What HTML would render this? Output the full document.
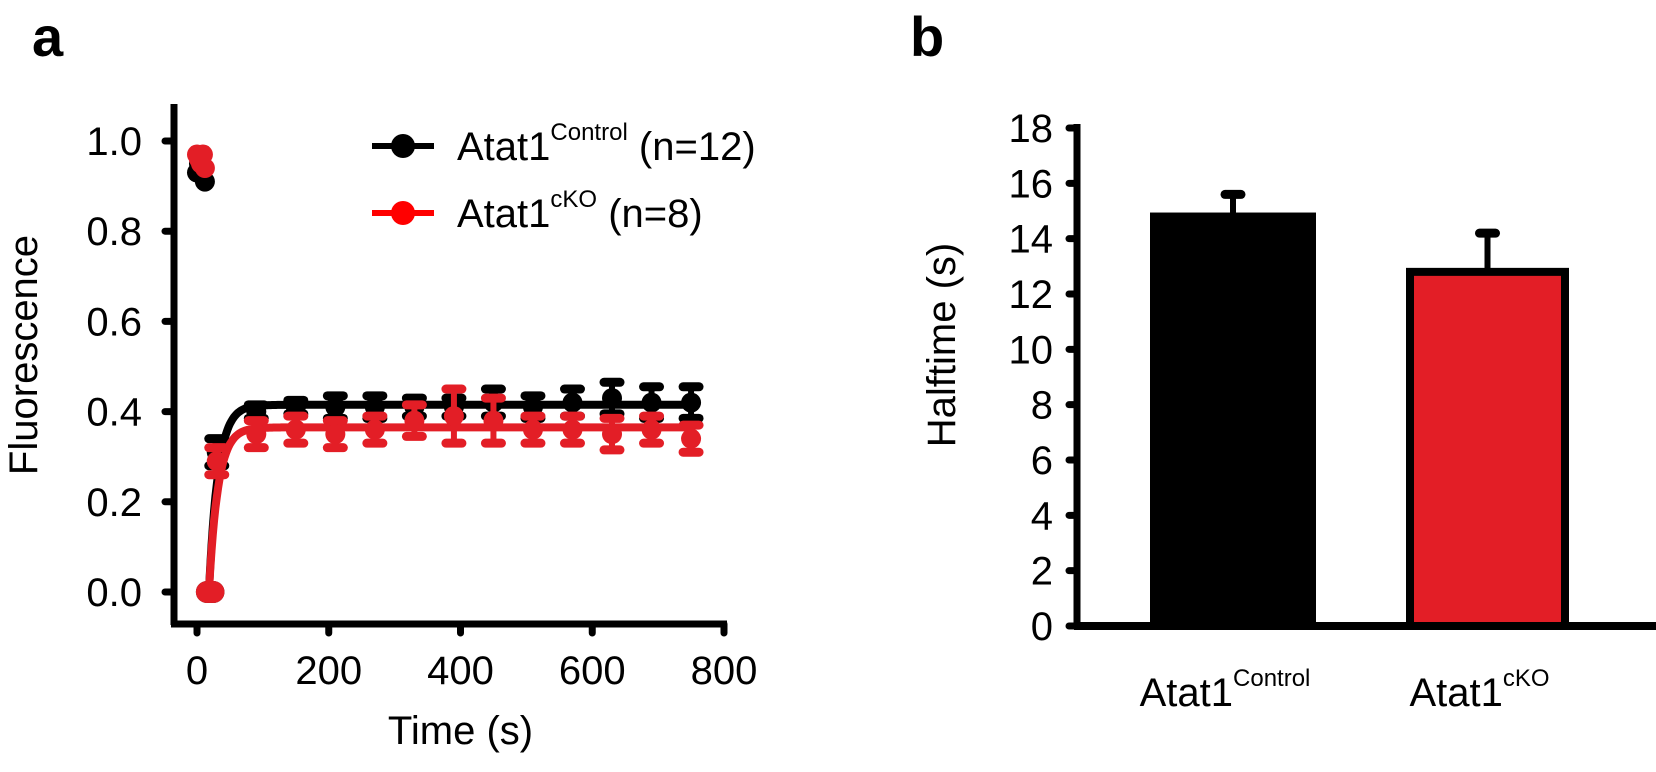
<!DOCTYPE html>
<html><head><meta charset="utf-8"><style>
html,body{margin:0;padding:0;background:#fff;}
svg{display:block;font-family:"Liberation Sans",Arial,sans-serif;}
</style></head><body>
<svg id="fig" width="1656" height="772" viewBox="0 0 1656 772">
<text x="32" y="56" font-size="56" font-weight="bold">a</text>
<text x="910" y="56" font-size="56" font-weight="bold">b</text>
<g id="pa"></g>
<g id="pb"></g>
</svg>
<script>
const NS='http://www.w3.org/2000/svg';
// ---- Panel a data ----
const timesPre=[0,3,6,9,12];
const ctrlPre=[0.93,0.95,0.96,0.94,0.91];
const ckoPre=[0.97,0.96,0.95,0.97,0.94];
const timesBleach=[15,20,25];
const bleachVals=[0,0,0];
const times=[30,90,150,210,270,330,390,450,510,570,630,690,750];
const ctrlMean=[0.31,0.40,0.41,0.41,0.41,0.41,0.41,0.42,0.41,0.42,0.43,0.42,0.42];
const ctrlErr=[0.03,0.015,0.015,0.025,0.025,0.02,0.02,0.03,0.025,0.03,0.035,0.035,0.035];
const ckoMean=[0.29,0.35,0.36,0.35,0.36,0.38,0.39,0.38,0.36,0.36,0.35,0.36,0.34];
const ckoErr=[0.03,0.03,0.03,0.03,0.03,0.035,0.06,0.05,0.03,0.03,0.035,0.03,0.03];
const ctrlPlateau=0.415, ckoPlateau=0.365, fitTau=14, fitStart=18;
const xTicksA=[0,200,400,600,800];
const yTicksA=[0,0.2,0.4,0.6,0.8,1.0];
const yTickLabelsA=['0.0','0.2','0.4','0.6','0.8','1.0'];
// ---- Panel b data ----
const groups=['Control','cKO'];
const halftime=[14.8,12.8];
const halftimeErr=[0.8,1.4];
const yTicksB=[0,2,4,6,8,10,12,14,16,18];

function el(tag,attrs,parent,txt){const e=document.createElementNS(NS,tag);for(const k in attrs)e.setAttribute(k,attrs[k]);if(txt!==undefined)e.textContent=txt;parent.appendChild(e);return e;}
const RED='#e31e26';
const xa=t=>197+(724-197)*t/800;
const ya=v=>592-451*v;
const pa=document.getElementById('pa');
let e;
e=el('line',{x1:174,y1:104,x2:174,y2:625,stroke:'#000','stroke-width':7},pa);

e=el('line',{x1:171,y1:624,x2:727,y2:624,stroke:'#000','stroke-width':7},pa);

yTicksA.forEach((v,i)=>{
  el('line',{x1:165,y1:ya(v),x2:174,y2:ya(v),stroke:'#000','stroke-width':7,'stroke-linecap':'round'},pa);
  e=el('text',{x:142,y:ya(v)+14,'font-size':40,'text-anchor':'end'},pa,yTickLabelsA[i]);
  
});
xTicksA.forEach(t=>{
  el('line',{x1:xa(t),y1:624,x2:xa(t),y2:633,stroke:'#000','stroke-width':7,'stroke-linecap':'round'},pa);
  e=el('text',{x:xa(t),y:684,'font-size':40,'text-anchor':'middle'},pa,String(t));
  
});
e=el('text',{x:xa(400),y:744,'font-size':40,'text-anchor':'middle'},pa,'Time (s)');

e=el('text',{x:0,y:0,'font-size':40,'text-anchor':'middle',transform:'translate(37,355) rotate(-90)'},pa,'Fluorescence');


function series(pre,mean,err,plateau,color,name){
  const g=el('g',{},pa);
  
  let d='M'+xa(fitStart)+' '+ya(0);
  for(let t=fitStart;t<=750;t+=2){d+=' L'+xa(t).toFixed(1)+' '+ya(plateau*(1-Math.exp(-(t-fitStart)/fitTau))).toFixed(1);}
  e=el('path',{d:d,fill:'none',stroke:color,'stroke-width':8},g);
  
  pre.forEach((v,i)=>{e=el('circle',{cx:xa(timesPre[i]),cy:ya(v),r:10,fill:color},g);
    });
  bleachVals.forEach((v,i)=>{e=el('circle',{cx:xa(timesBleach[i]),cy:ya(v),r:11,fill:color},g);
    });
  times.forEach((t,i)=>{
    const x=xa(t),y1=ya(mean[i]+err[i]),y2=ya(mean[i]-err[i]);
    e=el('line',{x1:x,y1:y1,x2:x,y2:y2,stroke:color,'stroke-width':6},g);
    
    el('line',{x1:x-8,y1:y1,x2:x+8,y2:y1,stroke:color,'stroke-width':9,'stroke-linecap':'round'},g);
    el('line',{x1:x-8,y1:y2,x2:x+8,y2:y2,stroke:color,'stroke-width':9,'stroke-linecap':'round'},g);
    e=el('circle',{cx:x,cy:ya(mean[i]),r:10,fill:color},g);
    
  });
}
series(ctrlPre,ctrlMean,ctrlErr,ctrlPlateau,'#000','control');
series(ckoPre,ckoMean,ckoErr,ckoPlateau,RED,'cko');
function legend(y,color,main,sup,tail,name){
  const g=el('g',{},pa);
  
  el('line',{x1:372,y1:y,x2:434,y2:y,stroke:color,'stroke-width':6},g);
  el('circle',{cx:403,cy:y,r:12,fill:color},g);
  const t=el('text',{x:457,y:y+14,'font-size':40},g);
  el('tspan',{},t,main);
  el('tspan',{'font-size':24,dy:-20},t,sup);
  el('tspan',{dy:20},t,tail);
}
legend(146,'#000','Atat1','Control',' (n=12)','control');
legend(213,'#ff0000','Atat1','cKO',' (n=8)','cko');

// Panel b
const pb=document.getElementById('pb');
const yb=v=>626-(626-128)*v/18;
const barX=[1154,1410], barW=[158,155];
e=el('line',{x1:1077,y1:124,x2:1077,y2:629,stroke:'#000','stroke-width':7},pb);

e=el('line',{x1:1074,y1:626,x2:1700,y2:626,stroke:'#000','stroke-width':8},pb);

yTicksB.forEach(v=>{
  el('line',{x1:1069,y1:yb(v),x2:1077,y2:yb(v),stroke:'#000','stroke-width':7,'stroke-linecap':'round'},pb);
  e=el('text',{x:1053,y:yb(v)+14,'font-size':40,'text-anchor':'end'},pb,String(v));
  
});
e=el('text',{x:0,y:0,'font-size':40,'text-anchor':'middle',transform:'translate(955,345) rotate(-90)'},pb,'Halftime (s)');

const fills=['#000',RED];
halftime.forEach((v,i)=>{
  const cx=barX[i]+barW[i]/2;
  e=el('line',{x1:cx,y1:yb(v),x2:cx,y2:yb(v+halftimeErr[i]),stroke:'#000','stroke-width':6},pb);
  
  el('line',{x1:cx-8,y1:yb(v+halftimeErr[i]),x2:cx+8,y2:yb(v+halftimeErr[i]),stroke:'#000','stroke-width':9,'stroke-linecap':'round'},pb);
  e=el('rect',{x:barX[i],y:yb(v),width:barW[i],height:626-yb(v),fill:fills[i],stroke:'#000','stroke-width':8},pb);
  
  const t=el('text',{x:cx-8,y:706,'font-size':40,'text-anchor':'middle'},pb);
  
  
  el('tspan',{},t,'Atat1');
  el('tspan',{'font-size':24,dy:-20},t,groups[i]);
});
</script>
</body></html>
